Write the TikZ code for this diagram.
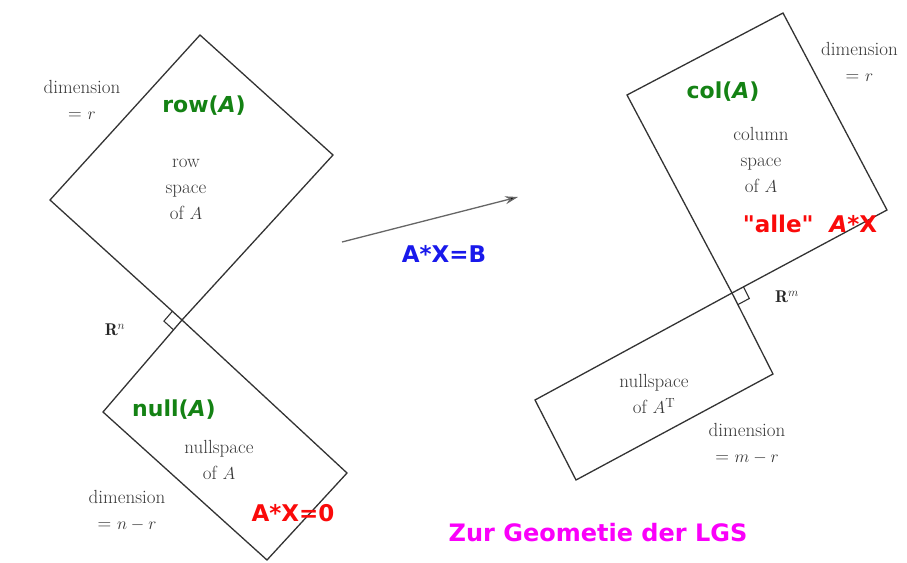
\documentclass[tikz,border=0pt]{standalone}
\usepackage{fontspec}
\newfontfamily\labfont{DejaVu Sans}
\usetikzlibrary{calc,arrows.meta}
\definecolor{lgreen}{RGB}{20,130,20}
\definecolor{lred}{RGB}{250,10,10}
\definecolor{lblue}{RGB}{25,25,235}
\definecolor{lmag}{RGB}{250,0,250}
\tikzset{
  spacebox/.style={draw=black!80, line width=1.3pt, line join=miter},
  rightmark/.style={draw=black!80, line width=1.1pt},
  gtext/.style={text=black!78, font=\fontsize{19}{26}\selectfont, align=center, inner sep=0pt},
  rlabel/.style={text=black!85, font=\fontsize{17}{20}\selectfont, inner sep=0pt},
  greenlab/.style={text=lgreen, font=\labfont\bfseries\fontsize{22}{24}\selectfont, inner sep=0pt},
  redlab/.style={text=lred, font=\labfont\bfseries\fontsize{23}{24}\selectfont, inner sep=0pt},
  bluelab/.style={text=lblue, font=\labfont\bfseries\fontsize{23}{24}\selectfont, inner sep=0pt},
  maglab/.style={text=lmag, font=\labfont\bfseries\fontsize{24}{26}\selectfont, inner sep=0pt},
  maparrow/.style={draw=black!60, line width=1.3pt, -{Stealth[length=13pt,width=8pt,fill=black]}},
}
\begin{document}
\begin{tikzpicture}[x=1pt,y=-1pt]
\useasboundingbox (0,0) rectangle (907,562);
\clip (0,0) rectangle (907,562);
% ---- left: row space and nullspace ----
\coordinate (rT) at (200,35);
\coordinate (rR) at (333,155);
\coordinate (rL) at (50,200);
\coordinate (C1) at (182,320);
\coordinate (nL) at (103,412);
\coordinate (nR) at (347,473);
\coordinate (nB) at (267,560);
\draw[spacebox] (rT) -- (rR) -- (C1) -- (rL) -- cycle;
\draw[spacebox] (C1) -- (nR) -- (nB) -- (nL) -- cycle;
\draw[rightmark] ($(C1)!13pt!(rL)$) -- ($($(C1)!13pt!(rL)$)+($(C1)!13pt!(nL)$)-(C1)$) -- ($(C1)!13pt!(nL)$);
% ---- right: column space and left nullspace ----
\coordinate (cT) at (783,13);
\coordinate (cL) at (627,95);
\coordinate (cR) at (887,210);
\coordinate (C2) at (732,293);
\coordinate (mR) at (773,374);
\coordinate (mL) at (535,400);
\coordinate (mB) at (576,480);
\draw[spacebox] (cT) -- (cR) -- (C2) -- (cL) -- cycle;
\draw[spacebox] (C2) -- (mR) -- (mB) -- (mL) -- cycle;
\draw[rightmark] ($(C2)!13pt!(cR)$) -- ($($(C2)!13pt!(cR)$)+($(C2)!13pt!(mR)$)-(C2)$) -- ($(C2)!13pt!(mR)$);
% ---- map arrow ----
\coordinate (aS) at (342,242);
\coordinate (aE) at (518,197);
\draw[maparrow] (aS) -- (aE);
% ---- texts left ----
\node[gtext] (dimr) at (82,100) {dimension\\= $r$};
\node[greenlab] (rowA) at (204,106) {row(\textit{A})};
\node[gtext] (rowsp) at (186,189) {row\\space\\of $A$};
\node[rlabel] (Rn) at (115,330) {$\mathbf{R}^n$};
\node[greenlab] (nullA) at (174,410) {null(\textit{A})};
\node[gtext] (nullsp) at (219,460) {nullspace\\of $A$};
\node[gtext] (dimnr) at (127,511) {dimension\\= $n-r$};
\node[redlab] (ax0) at (293,513) {A*X=0};
% ---- texts middle ----
\node[bluelab] (axb) at (444,254) {A*X=B};
\node[maglab] (title) at (598,533) {Zur Geometie der LGS};
% ---- texts right ----
\node[greenlab] (colA) at (723,92) {col(\textit{A})};
\node[gtext] (colsp) at (761,160) {column\\space\\of $A$};
\node[redlab] (alle) at (810,224) {"alle"\ \ \textit{A}*X};
\node[gtext, anchor=west] (dimr2) at (821,62) {dimension\\= $r$};
\node[rlabel] (Rm) at (787,297) {$\mathbf{R}^m$};
\node[gtext] (leftnull) at (654,394) {nullspace\\of $A^{\mathrm{T}}$};
\node[gtext] (dimmr) at (747,444) {dimension\\= $m-r$};
\end{tikzpicture}
\end{document}
